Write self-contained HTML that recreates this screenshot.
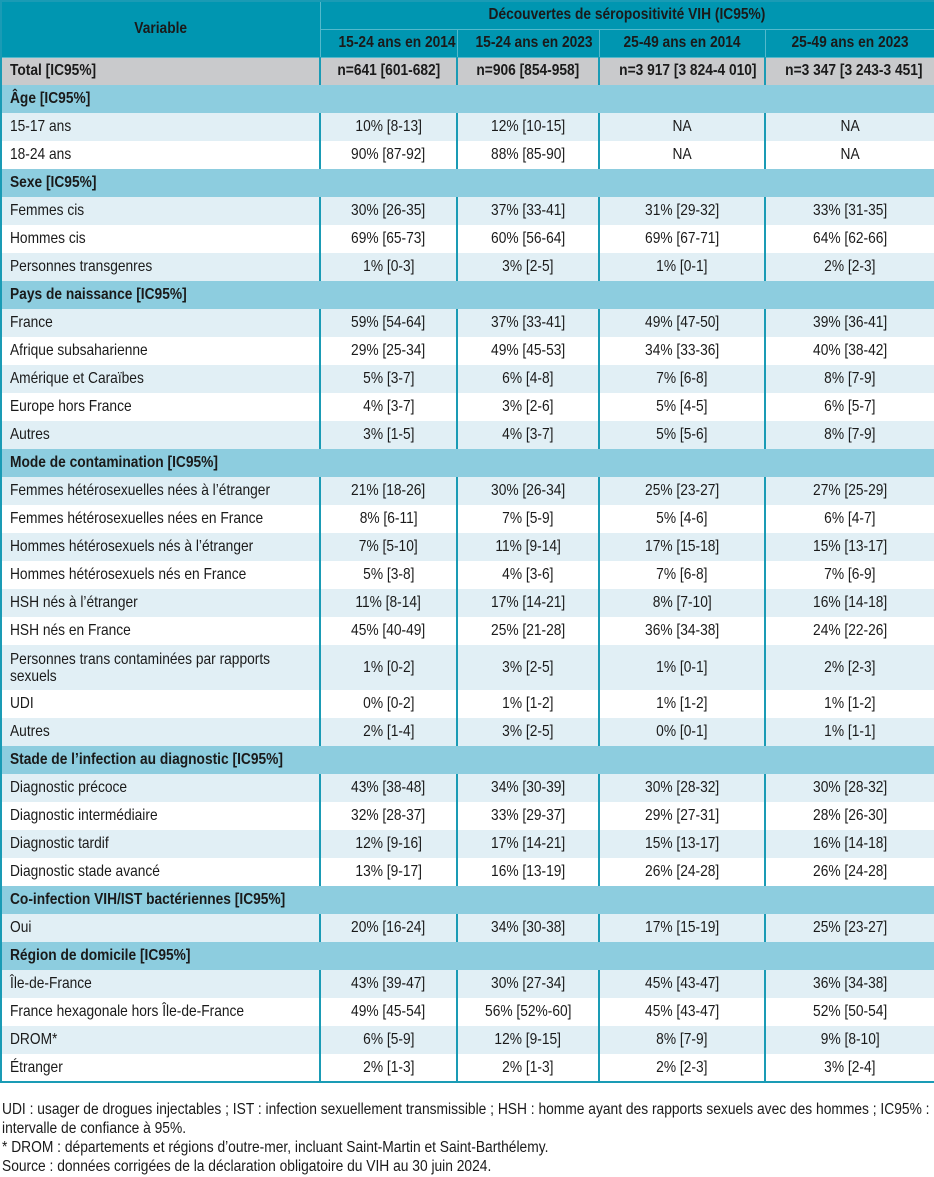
<!DOCTYPE html>
<html><head><meta charset="utf-8"><style>
body{margin:0;background:#fff;width:934px;height:1177px;overflow:hidden;font-family:"Liberation Sans",sans-serif;font-size:16px;color:#1a1a1a}
table{border-collapse:collapse;position:absolute;left:0;top:0;width:934px;table-layout:fixed;border:2px solid #1a9bb5}
td,th{padding:0 8px;height:28px;box-sizing:border-box;white-space:nowrap;overflow:visible}
td span,th span{display:inline-block;transform:scaleX(.86);transform-origin:center}
td:first-child span{transform-origin:left}
th span{transform-origin:center!important}
th{background:#0096b1;color:#1a1a1a;font-weight:bold;text-align:center;border:1.5px solid #53b9cc}
.tot td{background:#c9cacc;font-weight:bold;text-align:center;border-left:2px solid #1a9bb5}
.tot td:first-child{text-align:left}
.sec td{background:#8dcddf;font-weight:bold}
tr.d td{text-align:center;border-left:2px solid #1a9bb5}
tr.d td:first-child{text-align:left;border-left:none}
tr.a td{background:#e1eff5}
tr.b td{background:#fff}
.foot{position:absolute;left:2px;top:1100px;font-size:15.5px;line-height:19px;width:1045px;transform:scaleX(.89);transform-origin:left top}
</style></head><body>
<table>
<colgroup><col style="width:319px"><col style="width:137px"><col style="width:142px"><col style="width:166px"><col style="width:170px"></colgroup>
<tr><th rowspan="2"><span>Variable</span></th><th colspan="4"><span>Découvertes de séropositivité VIH (IC95%)</span></th></tr>
<tr><th><span>15-24 ans en 2014</span></th><th><span>15-24 ans en 2023</span></th><th><span>25-49 ans en 2014</span></th><th><span>25-49 ans en 2023</span></th></tr>
<tr class="tot"><td><span>Total [IC95%]</span></td><td><span>n=641 [601-682]</span></td><td><span>n=906 [854-958]</span></td><td><span>n=3 917 [3 824-4 010]</span></td><td><span>n=3 347 [3 243-3 451]</span></td></tr>
<tr class="sec"><td colspan="5"><span>Âge [IC95%]</span></td></tr>
<tr class="d a"><td><span>15-17 ans</span></td><td><span>10% [8-13]</span></td><td><span>12% [10-15]</span></td><td><span>NA</span></td><td><span>NA</span></td></tr>
<tr class="d b"><td><span>18-24 ans</span></td><td><span>90% [87-92]</span></td><td><span>88% [85-90]</span></td><td><span>NA</span></td><td><span>NA</span></td></tr>
<tr class="sec"><td colspan="5"><span>Sexe [IC95%]</span></td></tr>
<tr class="d a"><td><span>Femmes cis</span></td><td><span>30% [26-35]</span></td><td><span>37% [33-41]</span></td><td><span>31% [29-32]</span></td><td><span>33% [31-35]</span></td></tr>
<tr class="d b"><td><span>Hommes cis</span></td><td><span>69% [65-73]</span></td><td><span>60% [56-64]</span></td><td><span>69% [67-71]</span></td><td><span>64% [62-66]</span></td></tr>
<tr class="d a"><td><span>Personnes transgenres</span></td><td><span>1% [0-3]</span></td><td><span>3% [2-5]</span></td><td><span>1% [0-1]</span></td><td><span>2% [2-3]</span></td></tr>
<tr class="sec"><td colspan="5"><span>Pays de naissance [IC95%]</span></td></tr>
<tr class="d a"><td><span>France</span></td><td><span>59% [54-64]</span></td><td><span>37% [33-41]</span></td><td><span>49% [47-50]</span></td><td><span>39% [36-41]</span></td></tr>
<tr class="d b"><td><span>Afrique subsaharienne</span></td><td><span>29% [25-34]</span></td><td><span>49% [45-53]</span></td><td><span>34% [33-36]</span></td><td><span>40% [38-42]</span></td></tr>
<tr class="d a"><td><span>Amérique et Caraïbes</span></td><td><span>5% [3-7]</span></td><td><span>6% [4-8]</span></td><td><span>7% [6-8]</span></td><td><span>8% [7-9]</span></td></tr>
<tr class="d b"><td><span>Europe hors France</span></td><td><span>4% [3-7]</span></td><td><span>3% [2-6]</span></td><td><span>5% [4-5]</span></td><td><span>6% [5-7]</span></td></tr>
<tr class="d a"><td><span>Autres</span></td><td><span>3% [1-5]</span></td><td><span>4% [3-7]</span></td><td><span>5% [5-6]</span></td><td><span>8% [7-9]</span></td></tr>
<tr class="sec"><td colspan="5"><span>Mode de contamination [IC95%]</span></td></tr>
<tr class="d a"><td><span>Femmes hétérosexuelles nées à l’étranger</span></td><td><span>21% [18-26]</span></td><td><span>30% [26-34]</span></td><td><span>25% [23-27]</span></td><td><span>27% [25-29]</span></td></tr>
<tr class="d b"><td><span>Femmes hétérosexuelles nées en France</span></td><td><span>8% [6-11]</span></td><td><span>7% [5-9]</span></td><td><span>5% [4-6]</span></td><td><span>6% [4-7]</span></td></tr>
<tr class="d a"><td><span>Hommes hétérosexuels nés à l’étranger</span></td><td><span>7% [5-10]</span></td><td><span>11% [9-14]</span></td><td><span>17% [15-18]</span></td><td><span>15% [13-17]</span></td></tr>
<tr class="d b"><td><span>Hommes hétérosexuels nés en France</span></td><td><span>5% [3-8]</span></td><td><span>4% [3-6]</span></td><td><span>7% [6-8]</span></td><td><span>7% [6-9]</span></td></tr>
<tr class="d a"><td><span>HSH nés à l’étranger</span></td><td><span>11% [8-14]</span></td><td><span>17% [14-21]</span></td><td><span>8% [7-10]</span></td><td><span>16% [14-18]</span></td></tr>
<tr class="d b"><td><span>HSH nés en France</span></td><td><span>45% [40-49]</span></td><td><span>25% [21-28]</span></td><td><span>36% [34-38]</span></td><td><span>24% [22-26]</span></td></tr>
<tr class="d a"><td style="height:45px;line-height:17px"><span>Personnes trans contaminées par rapports<br>sexuels</span></td><td><span>1% [0-2]</span></td><td><span>3% [2-5]</span></td><td><span>1% [0-1]</span></td><td><span>2% [2-3]</span></td></tr>
<tr class="d b"><td><span>UDI</span></td><td><span>0% [0-2]</span></td><td><span>1% [1-2]</span></td><td><span>1% [1-2]</span></td><td><span>1% [1-2]</span></td></tr>
<tr class="d a"><td><span>Autres</span></td><td><span>2% [1-4]</span></td><td><span>3% [2-5]</span></td><td><span>0% [0-1]</span></td><td><span>1% [1-1]</span></td></tr>
<tr class="sec"><td colspan="5"><span>Stade de l’infection au diagnostic [IC95%]</span></td></tr>
<tr class="d a"><td><span>Diagnostic précoce</span></td><td><span>43% [38-48]</span></td><td><span>34% [30-39]</span></td><td><span>30% [28-32]</span></td><td><span>30% [28-32]</span></td></tr>
<tr class="d b"><td><span>Diagnostic intermédiaire</span></td><td><span>32% [28-37]</span></td><td><span>33% [29-37]</span></td><td><span>29% [27-31]</span></td><td><span>28% [26-30]</span></td></tr>
<tr class="d a"><td><span>Diagnostic tardif</span></td><td><span>12% [9-16]</span></td><td><span>17% [14-21]</span></td><td><span>15% [13-17]</span></td><td><span>16% [14-18]</span></td></tr>
<tr class="d b"><td><span>Diagnostic stade avancé</span></td><td><span>13% [9-17]</span></td><td><span>16% [13-19]</span></td><td><span>26% [24-28]</span></td><td><span>26% [24-28]</span></td></tr>
<tr class="sec"><td colspan="5"><span>Co-infection VIH/IST bactériennes [IC95%]</span></td></tr>
<tr class="d a"><td><span>Oui</span></td><td><span>20% [16-24]</span></td><td><span>34% [30-38]</span></td><td><span>17% [15-19]</span></td><td><span>25% [23-27]</span></td></tr>
<tr class="sec"><td colspan="5"><span>Région de domicile [IC95%]</span></td></tr>
<tr class="d a"><td><span>Île-de-France</span></td><td><span>43% [39-47]</span></td><td><span>30% [27-34]</span></td><td><span>45% [43-47]</span></td><td><span>36% [34-38]</span></td></tr>
<tr class="d b"><td><span>France hexagonale hors Île-de-France</span></td><td><span>49% [45-54]</span></td><td><span>56% [52%-60]</span></td><td><span>45% [43-47]</span></td><td><span>52% [50-54]</span></td></tr>
<tr class="d a"><td><span>DROM*</span></td><td><span>6% [5-9]</span></td><td><span>12% [9-15]</span></td><td><span>8% [7-9]</span></td><td><span>9% [8-10]</span></td></tr>
<tr class="d b"><td><span>Étranger</span></td><td><span>2% [1-3]</span></td><td><span>2% [1-3]</span></td><td><span>2% [2-3]</span></td><td><span>3% [2-4]</span></td></tr>
</table>
<div class="foot">UDI : usager de drogues injectables ; IST : infection sexuellement transmissible ; HSH : homme ayant des rapports sexuels avec des hommes ; IC95% :<br>intervalle de confiance à 95%.<br>* DROM : départements et régions d’outre-mer, incluant Saint-Martin et Saint-Barthélemy.<br>Source : données corrigées de la déclaration obligatoire du VIH au 30 juin 2024.</div>
</body></html>
